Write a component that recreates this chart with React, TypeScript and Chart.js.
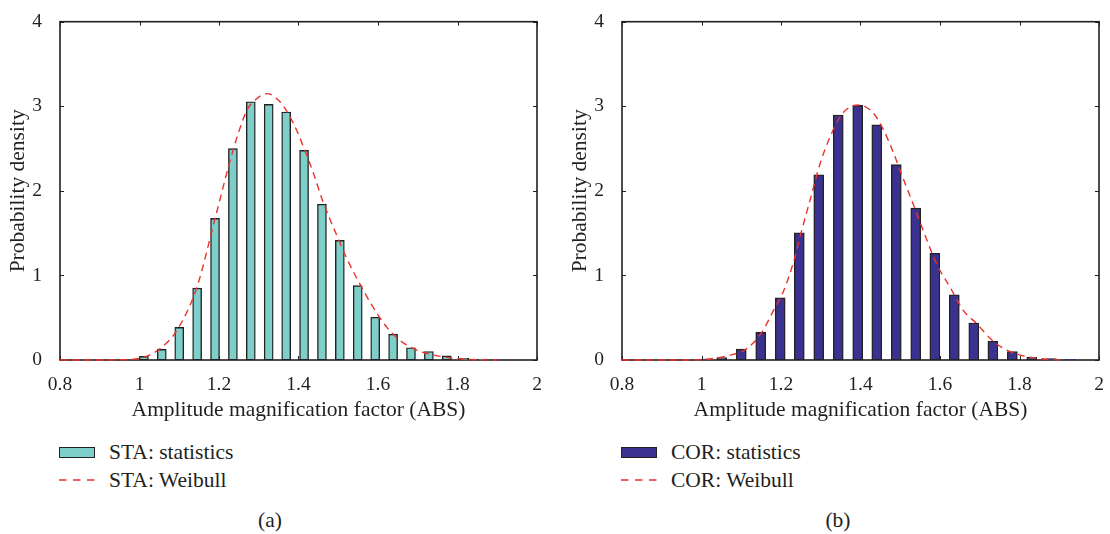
import React, { useEffect, useRef } from "react";
import { Chart, registerables } from "chart.js";
Chart.register(...registerables);

// ---- axis ticks ----
const xTickValues = [0.8, 1.0, 1.2, 1.4, 1.6, 1.8, 2.0];
const xTickLabels = ["0.8", "1", "1.2", "1.4", "1.6", "1.8", "2"];
const yTickValues = [0, 1, 2, 3, 4];
const yTickLabels = ["0", "1", "2", "3", "4"];

// ---- (a) STA ----
const staBins = [1.011, 1.056, 1.1, 1.145, 1.19, 1.235, 1.28, 1.325, 1.369, 1.414, 1.459, 1.504, 1.549, 1.593, 1.638, 1.683, 1.728, 1.773, 1.817, 1.862];
const staDensity = [0.043, 0.126, 0.386, 0.85, 1.674, 2.5, 3.053, 3.022, 2.932, 2.479, 1.842, 1.415, 0.879, 0.506, 0.305, 0.145, 0.1, 0.048, 0.02, 0.012];
const staCurveX = [0.8, 0.9, 0.95, 1.001, 1.052, 1.094, 1.144, 1.19, 1.236, 1.27, 1.295, 1.32, 1.354, 1.387, 1.412, 1.437, 1.462, 1.496, 1.521, 1.555, 1.588, 1.622, 1.655, 1.689, 1.723, 1.773, 1.823, 1.87, 1.9];
const staCurveY = [0, 0, 0.003, 0.02, 0.136, 0.35, 0.855, 1.671, 2.49, 2.95, 3.09, 3.149, 3.05, 2.8, 2.527, 2.216, 1.866, 1.477, 1.205, 0.894, 0.622, 0.389, 0.233, 0.136, 0.078, 0.031, 0.008, 0.002, 0];

// ---- (b) COR ----
const corBins = [1.003, 1.051, 1.1, 1.149, 1.198, 1.246, 1.295, 1.344, 1.393, 1.441, 1.49, 1.539, 1.587, 1.636, 1.685, 1.733, 1.782, 1.831, 1.88, 1.928];
const corDensity = [0.01, 0.03, 0.128, 0.327, 0.735, 1.504, 2.19, 2.896, 3.01, 2.78, 2.31, 1.795, 1.262, 0.771, 0.436, 0.222, 0.101, 0.033, 0.016, 0.008];
const corCurveX = [0.8, 0.95, 1.0, 1.0725, 1.1145, 1.152, 1.181, 1.2065, 1.232, 1.249, 1.274, 1.299, 1.324, 1.349, 1.374, 1.397, 1.433, 1.458, 1.483, 1.508, 1.534, 1.559, 1.5925, 1.626, 1.659, 1.693, 1.7265, 1.76, 1.802, 1.844, 1.9];
const corCurveY = [0, 0, 0.005, 0.058, 0.136, 0.33, 0.583, 0.816, 1.166, 1.477, 1.905, 2.332, 2.644, 2.877, 2.994, 3.015, 2.915, 2.72, 2.449, 2.137, 1.827, 1.516, 1.127, 0.855, 0.583, 0.428, 0.253, 0.136, 0.058, 0.02, 0];

const FONT = '"Liberation Serif", "Times New Roman", serif';
const INK = "#231f20";
const RED = "#e8332c";

const boxPlugin = {
  id: "matlabBox",
  beforeDatasetsDraw(chart: any) {
    const { ctx, chartArea } = chart;
    const { left, right, top, bottom } = chartArea;
    const xs = chart.scales.x;
    const ys = chart.scales.y;
    ctx.save();
    ctx.strokeStyle = INK;
    ctx.lineWidth = 1;
    const tl = 4;
    ctx.beginPath();
    xs.ticks.forEach((t: any) => {
      const px = Math.round(xs.getPixelForValue(t.value)) + 0.5;
      ctx.moveTo(px, bottom);
      ctx.lineTo(px, bottom - tl);
      ctx.moveTo(px, top);
      ctx.lineTo(px, top + tl);
    });
    ys.ticks.forEach((t: any) => {
      const py = Math.round(ys.getPixelForValue(t.value)) + 0.5;
      ctx.moveTo(left, py);
      ctx.lineTo(left + tl, py);
      ctx.moveTo(right, py);
      ctx.lineTo(right - tl, py);
    });
    ctx.stroke();
    ctx.lineWidth = 1.6;
    ctx.strokeRect(left, top, right - left, bottom - top);
    ctx.restore();
  },
};

type Props = {
  left: number;
  width: number;
  padRight: number;
  bins: number[];
  values: number[];
  curveX: number[];
  curveY: number[];
  barColor: string;
  barThickness: number;
};

function HistChart(p: Props) {
  const ref = useRef<HTMLCanvasElement>(null);
  useEffect(() => {
    const chart = new Chart(ref.current as HTMLCanvasElement, {
      type: "bar",
      data: {
        datasets: [
          {
            type: "line",
            data: p.curveX.map((x, i) => ({ x, y: p.curveY[i] })),
            borderColor: RED,
            borderWidth: 1.4,
            borderDash: [7, 5],
            pointRadius: 0,
            fill: false,
            cubicInterpolationMode: "monotone",
            clip: 6,
            order: 0,
          } as any,
          {
            type: "bar",
            data: p.bins.map((x, i) => ({ x, y: p.values[i] })),
            backgroundColor: p.barColor,
            borderColor: "#222222",
            borderWidth: 1.4,
            borderSkipped: false,
            barThickness: p.barThickness,
            order: 1,
          } as any,
        ],
      },
      options: {
        responsive: false,
        animation: false,
        devicePixelRatio: 1,
        layout: { padding: { left: 0, right: p.padRight, top: 17, bottom: 0 } },
        plugins: { legend: { display: false }, tooltip: { enabled: false } },
        scales: {
          x: {
            type: "linear",
            min: 0.8,
            max: 2,
            offset: false,
            grid: { display: false },
            border: { display: false },
            afterBuildTicks: (s: any) => {
              s.ticks = xTickValues.map((v) => ({ value: v }));
            },
            afterFit: (s: any) => {
              s.height = 70;
            },
            ticks: {
              padding: 5,
              color: INK,
              font: { family: FONT, size: 19.5 },
              maxRotation: 0,
              autoSkip: false,
              callback: (v: any) => {
                const i = xTickValues.findIndex((t) => Math.abs(t - v) < 1e-6);
                return i >= 0 ? xTickLabels[i] : "";
              },
            },
            title: {
              display: true,
              text: "Amplitude magnification factor (ABS)",
              color: INK,
              font: { family: FONT, size: 21.5 },
              padding: { top: 0, bottom: 7 },
            },
          },
          y: {
            type: "linear",
            min: 0,
            max: 4,
            grid: { display: false },
            border: { display: false },
            afterBuildTicks: (s: any) => {
              s.ticks = yTickValues.map((v) => ({ value: v }));
            },
            afterFit: (s: any) => {
              s.width = 60;
            },
            ticks: {
              padding: 10,
              color: INK,
              font: { family: FONT, size: 19.5 },
              callback: (v: any) => {
                const i = yTickValues.findIndex((t) => Math.abs(t - v) < 1e-6);
                return i >= 0 ? yTickLabels[i] : "";
              },
            },
            title: {
              display: true,
              text: "Probability density",
              color: INK,
              font: { family: FONT, size: 21.5 },
              padding: { top: 5, bottom: 0 },
            },
          },
        },
      },
      plugins: [boxPlugin],
    } as any);
    return () => chart.destroy();
  }, []);
  return (
    <canvas
      ref={ref}
      width={p.width}
      height={430}
      style={{ position: "absolute", left: p.left, top: 0, width: p.width, height: 430 }}
    />
  );
}

function Legend(props: { left: number; swatch: string; name: string; caption: string; captionX: number }) {
  const textStyle: React.CSSProperties = {
    position: "absolute",
    left: props.left + 49,
    fontFamily: FONT,
    fontSize: 21.5,
    lineHeight: "26px",
    height: 26,
    color: INK,
    whiteSpace: "nowrap",
  };
  return (
    <>
      <div
        style={{
          position: "absolute",
          left: props.left - 1,
          top: 447,
          width: 36,
          height: 11,
          boxSizing: "border-box",
          background: props.swatch,
          border: "1.5px solid #222222",
        }}
      />
      <div style={{ ...textStyle, top: 439 }}>{props.name + ": statistics"}</div>
      <svg
        width={36}
        height={4}
        style={{ position: "absolute", left: props.left - 1, top: 477.5 }}
      >
        <line x1={0} y1={2} x2={36} y2={2} stroke={RED} strokeWidth={1.3} strokeDasharray="7.5 6.5" />
      </svg>
      <div style={{ ...textStyle, top: 466.5 }}>{props.name + ": Weibull"}</div>
      <div
        style={{
          position: "absolute",
          left: props.captionX - 50,
          width: 100,
          textAlign: "center",
          top: 507,
          fontFamily: FONT,
          fontSize: 21.5,
          lineHeight: "26px",
          color: INK,
        }}
      >
        {props.caption}
      </div>
    </>
  );
}

export default function App() {
  return (
    <div
      style={{
        position: "absolute",
        left: 0,
        top: 0,
        width: 1110,
        height: 534,
        background: "#ffffff",
        overflow: "hidden",
      }}
    >
      <HistChart
        left={0}
        width={555}
        padRight={18}
        bins={staBins}
        values={staDensity}
        curveX={staCurveX}
        curveY={staCurveY}
        barColor="#7ecfca"
        barThickness={9}
      />
      <HistChart
        left={562}
        width={548}
        padRight={11}
        bins={corBins}
        values={corDensity}
        curveX={corCurveX}
        curveY={corCurveY}
        barColor="#3b3190"
        barThickness={10}
      />
      <Legend left={60} swatch="#7ecfca" name="STA" caption="(a)" captionX={270} />
      <Legend left={622} swatch="#3b3190" name="COR" caption="(b)" captionX={838} />
    </div>
  );
}
